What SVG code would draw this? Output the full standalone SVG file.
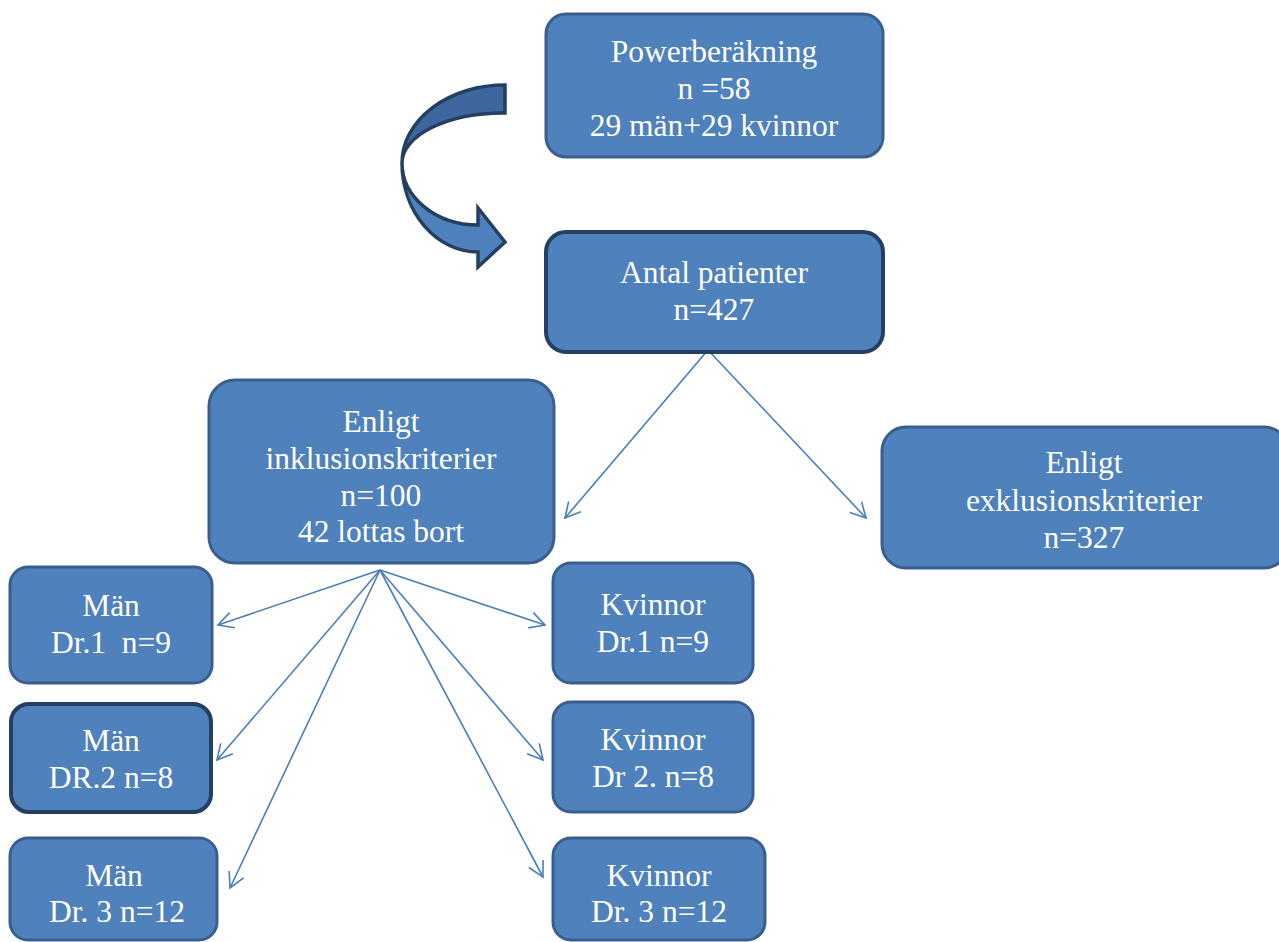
<svg xmlns="http://www.w3.org/2000/svg" width="1279" height="942" viewBox="0 0 1279 942">
<style>
.box{fill:#4f81bd;stroke:#3a5f8e;stroke-width:3}
.dark{stroke:#243f60;stroke-width:4}
.t{font-family:"Liberation Serif","Times New Roman",serif;font-size:31.5px;fill:#fff;text-anchor:middle}
.c{stroke:#4a7ebb;stroke-width:1.6;fill:none}
</style>
<defs>
<marker id="ah" markerUnits="userSpaceOnUse" markerWidth="20" markerHeight="20" refX="17" refY="10" orient="auto" viewBox="0 0 20 20">
<path d="M2,2 L17,10 L2,18" fill="none" stroke="#4a7ebb" stroke-width="1.6"/>
</marker>
</defs>
<rect width="1279" height="942" fill="#fff"/>
<g id="connectors">
<line class="c" x1="708" y1="350" x2="565" y2="518" marker-end="url(#ah)"/>
<line class="c" x1="708" y1="350" x2="866" y2="518" marker-end="url(#ah)"/>
<line class="c" x1="380" y1="570" x2="218" y2="625" marker-end="url(#ah)"/>
<line class="c" x1="380" y1="570" x2="217" y2="760" marker-end="url(#ah)"/>
<line class="c" x1="380" y1="570" x2="230" y2="888" marker-end="url(#ah)"/>
<line class="c" x1="380" y1="570" x2="545" y2="625" marker-end="url(#ah)"/>
<line class="c" x1="380" y1="570" x2="543" y2="760" marker-end="url(#ah)"/>
<line class="c" x1="380" y1="570" x2="543" y2="877" marker-end="url(#ah)"/>
</g>
<g id="curved-arrow" stroke="#243f60" stroke-width="3.5" stroke-linejoin="miter">
<path d="M478,225 L478,208 L505,242 L478,267 L478,252 A76,89 0 0 1 402,163 A76,62 0 0 0 478,225 Z" fill="#4f81bd"/>
<path d="M505,85 A103,78 0 0 0 402,163 A101,50 0 0 1 505,113 Z" fill="#3d679e"/>
</g>
<g id="power">
<rect class="box" x="546" y="14" width="337" height="143" rx="20"/>
<text class="t" x="714" y="62">Powerberäkning</text>
<text class="t" x="714" y="99">n =58</text>
<text class="t" x="714" y="136">29 män+29 kvinnor</text>
</g>
<g id="antal">
<rect class="box dark" x="546" y="232" width="337" height="120" rx="20"/>
<text class="t" x="714" y="283">Antal patienter</text>
<text class="t" x="714" y="320">n=427</text>
</g>
<g id="inkl">
<rect class="box" x="209" y="380" width="345" height="183" rx="26"/>
<text class="t" x="381" y="432">Enligt</text>
<text class="t" x="381" y="469">inklusionskriterier</text>
<text class="t" x="381" y="506">n=100</text>
<text class="t" x="381" y="542">42 lottas bort</text>
</g>
<g id="exkl">
<rect class="box" x="882" y="427" width="406" height="141" rx="24"/>
<text class="t" x="1084" y="473">Enligt</text>
<text class="t" x="1084" y="511">exklusionskriterier</text>
<text class="t" x="1084" y="548">n=327</text>
</g>
<g id="man1">
<rect class="box" x="10" y="567" width="202" height="116" rx="18"/>
<text class="t" x="111" y="616">Män</text>
<text class="t" x="111" y="653" xml:space="preserve">Dr.1  n=9</text>
</g>
<g id="man2">
<rect class="box dark" x="11" y="704" width="200" height="108" rx="18"/>
<text class="t" x="111" y="751">Män</text>
<text class="t" x="111" y="788">DR.2 n=8</text>
</g>
<g id="man3">
<rect class="box" x="10" y="838" width="207" height="102" rx="18"/>
<text class="t" x="114" y="886">Män</text>
<text class="t" x="117" y="922">Dr. 3 n=12</text>
</g>
<g id="kv1">
<rect class="box" x="553" y="563" width="200" height="120" rx="18"/>
<text class="t" x="653" y="615">Kvinnor</text>
<text class="t" x="653" y="652">Dr.1 n=9</text>
</g>
<g id="kv2">
<rect class="box" x="553" y="702" width="200" height="110" rx="18"/>
<text class="t" x="653" y="750">Kvinnor</text>
<text class="t" x="653" y="787">Dr 2. n=8</text>
</g>
<g id="kv3">
<rect class="box" x="553" y="838" width="212" height="102" rx="18"/>
<text class="t" x="659" y="886">Kvinnor</text>
<text class="t" x="659" y="922">Dr. 3 n=12</text>
</g>
</svg>
